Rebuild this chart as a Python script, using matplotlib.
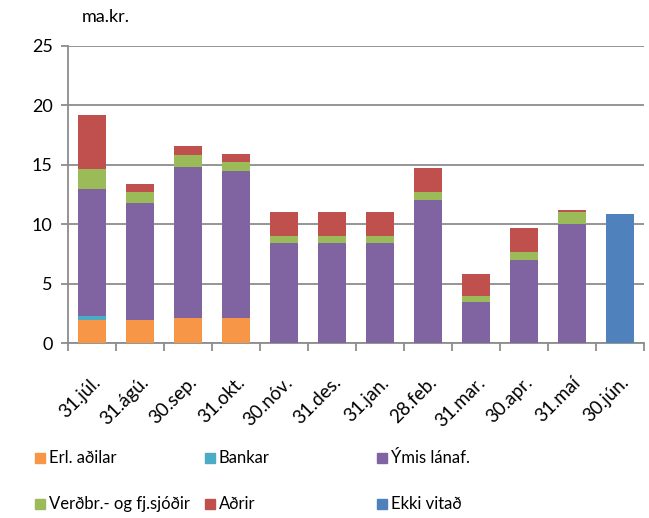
import numpy as np
import matplotlib.pyplot as plt
from matplotlib.patches import Rectangle
from matplotlib.transforms import ScaledTranslation

plt.rcParams['font.family'] = ['Lato', 'DejaVu Sans']

dates = ['31.júl.', '31.ágú.', '30.sep.', '31.okt.', '30.nóv.', '31.des.',
         '31.jan.', '28.feb.', '31.mar.', '30.apr.', '31.maí', '30.jún.']

erl = [1.9, 1.9, 2.1, 2.1, 0, 0, 0, 0, 0, 0, 0, 0]
bankar = [0.35, 0, 0, 0, 0, 0, 0, 0, 0, 0, 0, 0]
ymis = [10.7, 9.9, 12.7, 12.4, 8.45, 8.45, 8.45, 12.0, 3.45, 7.0, 10.0, 0]
verdbr = [1.7, 0.9, 1.05, 0.7, 0.55, 0.55, 0.55, 0.7, 0.5, 0.7, 1.0, 0]
adrir = [4.5, 0.7, 0.7, 0.7, 2.0, 2.0, 2.0, 2.0, 1.85, 2.0, 0.2, 0]
ekki = [0, 0, 0, 0, 0, 0, 0, 0, 0, 0, 0, 10.85]

series = [
    ('Erl. aðilar', erl, '#f79646'),
    ('Bankar', bankar, '#4bacc6'),
    ('Ýmis lánaf.', ymis, '#8064a2'),
    ('Verðbr.- og fj.sjóðir', verdbr, '#9bbb59'),
    ('Aðrir', adrir, '#c0504d'),
    ('Ekki vitað', ekki, '#4f81bd'),
]

fig = plt.figure(figsize=(6.49, 5.18), dpi=100)
ax = fig.add_axes([68 / 649, 1 - 343 / 518, 576 / 649, 297 / 518])

x = np.arange(len(dates))
bottom = np.zeros(len(dates))
for name, vals, col in series:
    vals = np.array(vals, dtype=float)
    ax.bar(x, vals, 0.57, bottom=bottom, color=col, zorder=3)
    bottom += vals

ax.set_xlim(-0.5, len(dates) - 0.5)
ax.set_ylim(0, 25)
ax.set_yticks(range(0, 26, 5))
ax.yaxis.grid(True, color='#8c8c8c', lw=1.3, zorder=0)
for s in ['top', 'right']:
    ax.spines[s].set_visible(False)
for s in ['left', 'bottom']:
    ax.spines[s].set_color('#8c8c8c')
    ax.spines[s].set_linewidth(1.3)

ax.set_xticks(np.arange(-0.5, len(dates)), minor=False)
ax.set_xticklabels([])
ax.set_xticks(x, minor=True)
ax.set_xticklabels(dates, minor=True, rotation=45, ha='right', va='top',
                   rotation_mode='anchor', fontsize=13.5)
# shift rotated labels a little to the right of the bar centres
shift = ScaledTranslation(6 / 100, 0, fig.dpi_scale_trans)
for lbl in ax.get_xticklabels(minor=True):
    lbl.set_transform(lbl.get_transform() + shift)
ax.tick_params(axis='x', which='major', length=6, color='#8c8c8c', width=1.3)
ax.tick_params(axis='x', which='minor', length=0, pad=22)
ax.tick_params(axis='y', length=5, color='#8c8c8c', width=1.3, labelsize=13, pad=6)

fig.text(82 / 649, 1 - 17 / 518, 'ma.kr.', fontsize=13, va='center')

# legend, three columns in two rows
cols_x = [35, 205, 377]
rows_y = [458, 504]
for i, (name, vals, col) in enumerate(series):
    r, c = divmod(i, 3)
    px, py = cols_x[c], rows_y[r]
    fig.patches.append(Rectangle((px / 649, 1 - (py + 5) / 518), 10 / 649, 10 / 518,
                                 color=col, transform=fig.transFigure, figure=fig))
    fig.text((px + 14) / 649, 1 - py / 518, name, fontsize=12, va='center')

fig.savefig('out.png')
